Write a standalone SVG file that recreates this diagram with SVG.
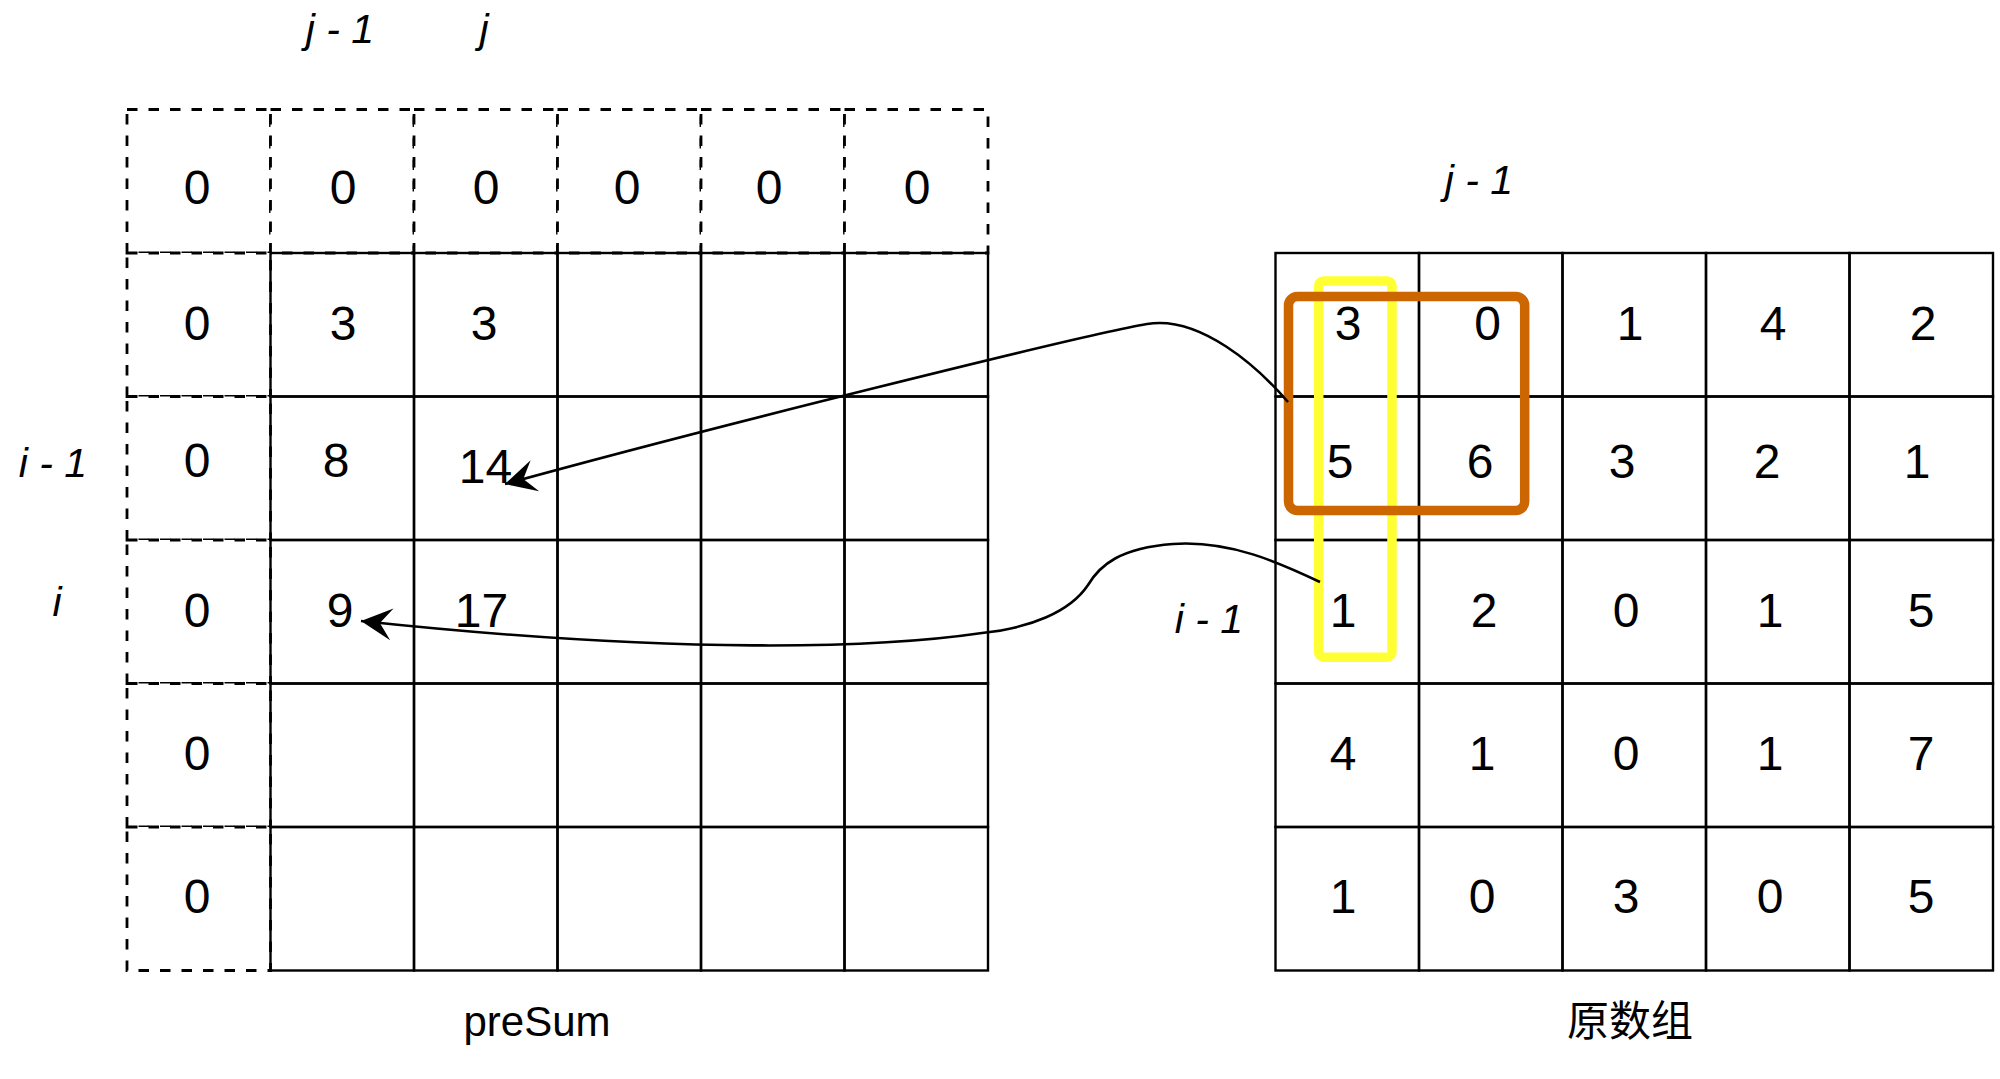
<svg xmlns="http://www.w3.org/2000/svg" width="2000" height="1079" viewBox="0 0 2000 1079">
<style>
.bg{fill:#ffffff}
.cell{fill:none;stroke:#000;stroke-width:2.4}
.dcell{fill:#fff;stroke:#000;stroke-width:2.8;stroke-dasharray:10.5 11}
.num{font-family:"Liberation Sans",Arial,sans-serif;font-size:48px;fill:#000;text-anchor:middle}
.lab{font-family:"Liberation Sans",Arial,sans-serif;font-size:41px;font-style:italic;fill:#000;text-anchor:middle}
.cap{font-family:"Liberation Sans","Noto Sans CJK SC",sans-serif;font-size:42px;fill:#000;text-anchor:middle}
.edge{fill:none;stroke:#000;stroke-width:2.6}
</style>
<defs>
<marker id="arr" markerUnits="userSpaceOnUse" markerWidth="40" markerHeight="40" refX="0" refY="0" orient="auto" overflow="visible">
<path d="M0,0 L-31,-16 L-19,0 L-31,16 Z" fill="#000"/>
</marker>
</defs>
<rect class="bg" x="0" y="0" width="2000" height="1079"/>

<g id="presum-grid">
<g id="presum-pad">
<rect class="dcell" x="127" y="109.5" width="143.5" height="143.5"/>
<rect class="dcell" x="270.5" y="109.5" width="143.5" height="143.5"/>
<rect class="dcell" x="414" y="109.5" width="143.5" height="143.5"/>
<rect class="dcell" x="557.5" y="109.5" width="143.5" height="143.5"/>
<rect class="dcell" x="701" y="109.5" width="143.5" height="143.5"/>
<rect class="dcell" x="844.5" y="109.5" width="143.5" height="143.5"/>
<rect class="dcell" x="127" y="253" width="143.5" height="143.5"/>
<rect class="dcell" x="127" y="396.5" width="143.5" height="143.5"/>
<rect class="dcell" x="127" y="540" width="143.5" height="143.5"/>
<rect class="dcell" x="127" y="683.5" width="143.5" height="143.5"/>
<rect class="dcell" x="127" y="827" width="143.5" height="143.5"/>
</g>
<g id="presum-cells">
<rect class="cell" x="270.5" y="253" width="143.5" height="143.5"/>
<rect class="cell" x="414" y="253" width="143.5" height="143.5"/>
<rect class="cell" x="557.5" y="253" width="143.5" height="143.5"/>
<rect class="cell" x="701" y="253" width="143.5" height="143.5"/>
<rect class="cell" x="844.5" y="253" width="143.5" height="143.5"/>
<rect class="cell" x="270.5" y="396.5" width="143.5" height="143.5"/>
<rect class="cell" x="414" y="396.5" width="143.5" height="143.5"/>
<rect class="cell" x="557.5" y="396.5" width="143.5" height="143.5"/>
<rect class="cell" x="701" y="396.5" width="143.5" height="143.5"/>
<rect class="cell" x="844.5" y="396.5" width="143.5" height="143.5"/>
<rect class="cell" x="270.5" y="540" width="143.5" height="143.5"/>
<rect class="cell" x="414" y="540" width="143.5" height="143.5"/>
<rect class="cell" x="557.5" y="540" width="143.5" height="143.5"/>
<rect class="cell" x="701" y="540" width="143.5" height="143.5"/>
<rect class="cell" x="844.5" y="540" width="143.5" height="143.5"/>
<rect class="cell" x="270.5" y="683.5" width="143.5" height="143.5"/>
<rect class="cell" x="414" y="683.5" width="143.5" height="143.5"/>
<rect class="cell" x="557.5" y="683.5" width="143.5" height="143.5"/>
<rect class="cell" x="701" y="683.5" width="143.5" height="143.5"/>
<rect class="cell" x="844.5" y="683.5" width="143.5" height="143.5"/>
<rect class="cell" x="270.5" y="827" width="143.5" height="143.5"/>
<rect class="cell" x="414" y="827" width="143.5" height="143.5"/>
<rect class="cell" x="557.5" y="827" width="143.5" height="143.5"/>
<rect class="cell" x="701" y="827" width="143.5" height="143.5"/>
<rect class="cell" x="844.5" y="827" width="143.5" height="143.5"/>
</g>
<g id="presum-values">
<text class="num" x="197" y="204">0</text>
<text class="num" x="343" y="204">0</text>
<text class="num" x="486" y="204">0</text>
<text class="num" x="627" y="204">0</text>
<text class="num" x="769" y="204">0</text>
<text class="num" x="917" y="204">0</text>
<text class="num" x="197" y="340">0</text>
<text class="num" x="343" y="340">3</text>
<text class="num" x="484" y="340">3</text>
<text class="num" x="197" y="477">0</text>
<text class="num" x="336" y="477">8</text>
<text class="num" x="485.5" y="483">14</text>
<text class="num" x="197" y="627">0</text>
<text class="num" x="340" y="627">9</text>
<text class="num" x="481.5" y="627">17</text>
<text class="num" x="197" y="770">0</text>
<text class="num" x="197" y="913">0</text>
</g>
</g>

<g id="source-grid">
<g id="source-cells">
<rect class="cell" x="1275.5" y="253" width="143.5" height="143.5"/>
<rect class="cell" x="1419" y="253" width="143.5" height="143.5"/>
<rect class="cell" x="1562.5" y="253" width="143.5" height="143.5"/>
<rect class="cell" x="1706" y="253" width="143.5" height="143.5"/>
<rect class="cell" x="1849.5" y="253" width="143.5" height="143.5"/>
<rect class="cell" x="1275.5" y="396.5" width="143.5" height="143.5"/>
<rect class="cell" x="1419" y="396.5" width="143.5" height="143.5"/>
<rect class="cell" x="1562.5" y="396.5" width="143.5" height="143.5"/>
<rect class="cell" x="1706" y="396.5" width="143.5" height="143.5"/>
<rect class="cell" x="1849.5" y="396.5" width="143.5" height="143.5"/>
<rect class="cell" x="1275.5" y="540" width="143.5" height="143.5"/>
<rect class="cell" x="1419" y="540" width="143.5" height="143.5"/>
<rect class="cell" x="1562.5" y="540" width="143.5" height="143.5"/>
<rect class="cell" x="1706" y="540" width="143.5" height="143.5"/>
<rect class="cell" x="1849.5" y="540" width="143.5" height="143.5"/>
<rect class="cell" x="1275.5" y="683.5" width="143.5" height="143.5"/>
<rect class="cell" x="1419" y="683.5" width="143.5" height="143.5"/>
<rect class="cell" x="1562.5" y="683.5" width="143.5" height="143.5"/>
<rect class="cell" x="1706" y="683.5" width="143.5" height="143.5"/>
<rect class="cell" x="1849.5" y="683.5" width="143.5" height="143.5"/>
<rect class="cell" x="1275.5" y="827" width="143.5" height="143.5"/>
<rect class="cell" x="1419" y="827" width="143.5" height="143.5"/>
<rect class="cell" x="1562.5" y="827" width="143.5" height="143.5"/>
<rect class="cell" x="1706" y="827" width="143.5" height="143.5"/>
<rect class="cell" x="1849.5" y="827" width="143.5" height="143.5"/>
</g>
<g id="source-values">
<text class="num" x="1348" y="340">3</text>
<text class="num" x="1487.5" y="340">0</text>
<text class="num" x="1630" y="340">1</text>
<text class="num" x="1773" y="340">4</text>
<text class="num" x="1923" y="340">2</text>
<text class="num" x="1340" y="478">5</text>
<text class="num" x="1480" y="478">6</text>
<text class="num" x="1622" y="478">3</text>
<text class="num" x="1767" y="478">2</text>
<text class="num" x="1917" y="478">1</text>
<text class="num" x="1343" y="627">1</text>
<text class="num" x="1484" y="627">2</text>
<text class="num" x="1626" y="627">0</text>
<text class="num" x="1770" y="627">1</text>
<text class="num" x="1921" y="627">5</text>
<text class="num" x="1343" y="770">4</text>
<text class="num" x="1482" y="770">1</text>
<text class="num" x="1626" y="770">0</text>
<text class="num" x="1770" y="770">1</text>
<text class="num" x="1921" y="770">7</text>
<text class="num" x="1343" y="913">1</text>
<text class="num" x="1482" y="913">0</text>
<text class="num" x="1626" y="913">3</text>
<text class="num" x="1770" y="913">0</text>
<text class="num" x="1921" y="913">5</text>
</g>
</g>

<g id="highlight-column">
<rect x="1318.7" y="281" width="73.3" height="376.2" rx="5" fill="none" stroke="#FFFF33" stroke-width="9.5"/>
</g>
<g id="highlight-block">
<rect x="1288.5" y="296.5" width="236.2" height="214" rx="9" fill="none" stroke="#CC6600" stroke-width="9.5"/>
</g>

<g id="labels">
<text class="lab" x="340" y="43">j - 1</text>
<text class="lab" x="484" y="43">j</text>
<text class="lab" x="53" y="477">i - 1</text>
<text class="lab" x="57" y="616">i</text>
<text class="lab" x="1479" y="193.5">j - 1</text>
<text class="lab" x="1209" y="633">i - 1</text>
<text class="cap" x="537" y="1036">preSum</text>
<text class="cap" x="1630" y="1036">原数组</text>
</g>

<g id="connectors">
<path class="edge" marker-end="url(#arr)" d="M1288,402 C1258,367 1200,315 1147,324 C1087,334 700,430 505,484"/>
<path class="edge" marker-end="url(#arr)" d="M1320,582 C1280,563 1230,540 1173,544 C1120,548 1100,565 1088,585 C1070,612 1030,628 982,633 C880,648 680,655 361,621"/>
</g>
</svg>
